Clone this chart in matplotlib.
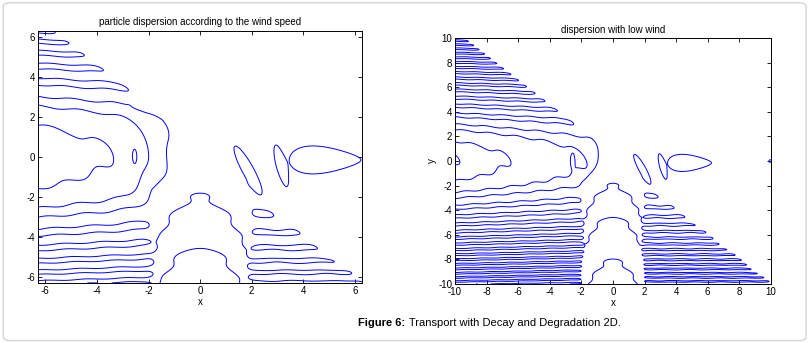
import numpy as np
import matplotlib.pyplot as plt
from matplotlib.patches import FancyBboxPatch

plt.rcParams['font.family'] = ['Liberation Sans', 'DejaVu Sans']
plt.rcParams['axes.unicode_minus'] = False

# panel settings
titles = ["particle dispersion according to the wind speed", "dispersion with low wind"]
limits = [2 * np.pi, 10.0]
ticks = [[-6, -4, -2, 0, 2, 4, 6], [-10, -8, -6, -4, -2, 0, 2, 4, 6, 8, 10]]

# shape parameters (left panel, right panel)
phase_ref = [-6.0, -10.0]       # x where the stripes sit at y^2 = n*pi
stripe_tilt = [0.5, 0.45]       # drift of the stripes towards y = 0
inner_close = [-3.3, -6.3]      # x where the inner band closes (phase = pi on y = 0)
inner_slope_left = [0.86, 0.77] # phase growth on y = 0 left of the closing point
inner_slope_right = [2.86, 0.77]
lower_left_end = [-1.9, -2.0]   # right end of the lower-left stripes
lower_right_start = [2.0, 1.95]
arch_top = [-1.7, -1.7]
arch_step = [3.0, 3.05]
arch_curv = [0.8, 0.8]

# isolated loops (centre, half widths, shear, taper, height)
blob_x = [1.85, 3.15, 4.85, -2.55, -2.6, 9.95]
blob_y = [-0.65, -0.48, -0.15, 0.05, 2.7, 0.0]
blob_sx = [0.25, 0.16, 1.4, 0.12, 0.25, 0.08]
blob_sy = [1.2, 0.95, 0.65, 0.5, 0.15, 0.1]
blob_shear = [-0.4, -0.2, 0.0, 0.0, 0.0, 0.0]
blob_taper = [0.0, 0.0, 0.45, 0.0, 0.0, 0.0]
blob_h = [0.8, 0.8, 0.8, 1.8, 0.8, 0.8]

level = 0.3


def sig(t):
    return 1.0 / (1.0 + np.exp(-t))


def field(x, y, i):
    w = 0.12
    # phase along y = 0, steeper to the right of the inner closing point
    d = x - inner_close[i]
    sl, sr = inner_slope_left[i], inner_slope_right[i]
    p_mid = np.pi + d * ((sl + sr) / 2 + (sr - sl) / 2 * np.tanh(d / 0.6))
    g = np.exp(-(y / 2.5) ** 2)
    phase = y ** 2 + g * p_mid + (1 - g) * stripe_tilt[i] * (x - phase_ref[i])
    phase = phase + 0.25 * np.sin(4 * x + 2 * y)

    # right end of the left stripes
    xe = -1.0 - 0.2 * (y - 0.5) ** 2
    xe = np.where(y > 1.8, -y + 0.5, xe)
    xe = np.where(y < 0, np.maximum(xe, lower_left_end[i]), xe)
    e_left = sig((xe - x) / w)

    e_lr = sig((x - lower_right_start[i]) / w) * sig((-y - x) / w) * sig((-y - 2.2) / w)
    e_lr = e_lr * (0.75 + 0.25 * np.cos(3.2 * x))
    s_lr = np.sin(y ** 2 + 0.25 * np.sin(4 * x + 2 * y))

    psi = np.pi / arch_step[i] * (-y - arch_curv[i] * x ** 2 + arch_top[i]) + 0.2 * np.sin(6 * y)
    e_v = sig((1.9 - np.abs(x)) / w) * sig((-y - 1.3) / w)

    z = e_left * np.sin(phase) + e_lr * s_lr + e_v * np.sin(psi)
    for bx, by, sx, sy, k, tp, h in zip(blob_x, blob_y, blob_sx, blob_sy, blob_shear, blob_taper, blob_h):
        u = (x - bx - k * (y - by)) / sx
        sy_x = sy * np.clip(1 - tp * u, 0.3, 2.0)
        v = (y - by) / sy_x
        z = z + h * np.exp(-u ** 2 - v ** 2)
    return z


fig = plt.figure(figsize=(8.11, 3.43), dpi=100)
fig.patches.append(FancyBboxPatch((0.004, 0.007), 0.99, 0.985, boxstyle="round,pad=0,rounding_size=0.01",
                                  transform=fig.transFigure, fill=False, edgecolor="#d4d4d4", lw=1.0))

boxes = [[0.047, 0.175, 0.3995, 0.735], [0.561, 0.172, 0.3896, 0.717]]
for i in range(2):
    ax = fig.add_axes(boxes[i])
    lim = limits[i]
    grid = np.linspace(-lim, lim, 900)
    xx, yy = np.meshgrid(grid, grid)
    zz = field(xx, yy, i)
    ax.contour(xx, yy, zz, levels=[level], colors="#0000ff", linewidths=0.7)
    ax.set_xlim(-lim, lim)
    ax.set_ylim(-lim, lim)
    ax.set_xticks(ticks[i])
    ax.set_yticks(ticks[i])
    ax.tick_params(direction="in", length=3, width=0.6, labelsize=7, top=True, right=True, pad=2)
    for sp in ax.spines.values():
        sp.set_linewidth(0.7)
    ax.set_title(titles[i], fontsize=7, pad=4)
    ax.set_xlabel("x", fontsize=7, labelpad=1)
    if i == 1:
        ax.set_ylabel("y", fontsize=7, labelpad=1)

fig.text(0.5, 0.058, "Figure 6:", fontsize=8, fontweight="bold", ha="right", va="center")
fig.text(0.5, 0.058, " Transport with Decay and Degradation 2D.", fontsize=8, ha="left", va="center")

fig.savefig("out.png", dpi=100)
